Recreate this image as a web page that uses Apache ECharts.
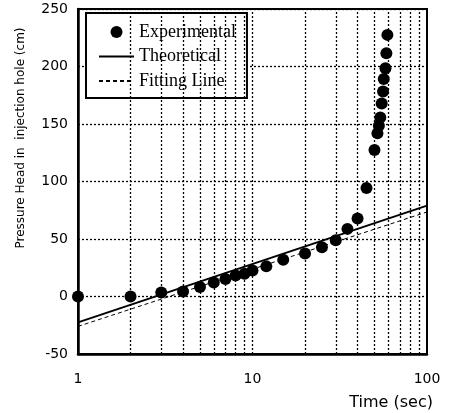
<!DOCTYPE html>
<html><head><meta charset="utf-8">
<script src="https://cdn.jsdelivr.net/npm/echarts@6/dist/echarts.min.js"></script>
<style>html,body{margin:0;padding:0;background:#fff}#c{width:452px;height:413px}</style>
</head><body><div id="c"></div>
<script>
// Experimental points
const timeSec = [1, 2, 3, 4, 5, 6, 7, 8, 9, 10, 12, 15, 20, 25, 30, 35, 40, 45, 50, 52, 53, 54, 55, 56, 56.5, 57.8, 58.5, 59.3];
const headExp = [0, 0, 3.5, 4.4, 8.2, 12.2, 15.2, 18.3, 19.8, 22.7, 26.2, 32, 37.3, 42.8, 48.9, 58.8, 67.8, 94.3, 127.4, 142, 148.4, 155.7, 167.9, 178.3, 189.1, 198.4, 211.5, 227.5];
// Lines
const lineTime = [1, 100];
const headTheory = [-22.5, 79];
const headFit = [-26, 73.5];
// Grid lines (log x minor + major)
const xGridValues = [2, 3, 4, 5, 6, 7, 8, 9, 10, 20, 30, 40, 50, 60, 70, 80, 90];
const yMin = -50, yMax = 250, yStep = 50;
const xMin = 1, xMax = 100;

const sans = 'DejaVu Sans';
const serif = 'Liberation Serif';
const dotted = { color: '#000', width: 1.3, type: [2, 2] };

const chart = echarts.init(document.getElementById('c'), null, { renderer: 'canvas' });
chart.setOption({
  animation: false,
  backgroundColor: '#fff',
  grid: { left: 78, right: 25, top: 9, bottom: 59, show: true, borderColor: '#000', borderWidth: 2 },
  xAxis: {
    type: 'log', logBase: 10, min: xMin, max: xMax,
    axisLine: { show: true, onZero: false, lineStyle: { color: '#000', width: 2.5 } },
    axisTick: { show: false },
    splitLine: { show: false },
    axisLabel: { color: '#000', fontFamily: sans, fontSize: 14, margin: 18 },
    name: 'Time (sec)', nameLocation: 'end', nameGap: 6,
    nameTextStyle: { color: '#000', fontFamily: sans, fontSize: 16, align: 'right', verticalAlign: 'top', padding: [41, 0, 0, 0] }
  },
  yAxis: {
    type: 'value', min: yMin, max: yMax, interval: yStep,
    axisLine: { show: true, lineStyle: { color: '#000', width: 2.5 } },
    axisTick: { show: false },
    splitLine: { show: true, lineStyle: dotted },
    axisLabel: { color: '#000', fontFamily: sans, fontSize: 14, margin: 10 },
    name: 'Pressure Head in  injection hole (cm)', nameLocation: 'middle', nameGap: 51,
    nameTextStyle: { color: '#000', fontFamily: sans, fontSize: 12, padding: [0, 0, 0, 87] }
  },
  legend: {
    orient: 'vertical', left: 86, top: 13,
    padding: [9, 11, 7, 12], itemGap: 4.5, itemWidth: 35, itemHeight: 12,
    backgroundColor: '#fff', borderColor: '#000', borderWidth: 2,
    textStyle: { fontFamily: serif, fontSize: 18, color: '#000', lineHeight: 20 },
    data: [
      { name: 'Experimental', icon: 'circle', itemStyle: { color: '#000', opacity: 1 } },
      { name: 'Theoretical', itemStyle: { opacity: 0 } },
      { name: 'Fitting Line', itemStyle: { opacity: 0 } }
    ]
  },
  series: [
    {
      name: 'Theoretical', type: 'line', symbol: 'none', z: 2,
      data: lineTime.map((t, i) => [t, headTheory[i]]),
      itemStyle: { color: '#000' },
      lineStyle: { color: '#000', width: 2 },
      markLine: {
        silent: true, symbol: 'none', label: { show: false },
        lineStyle: dotted, animation: false,
        data: xGridValues.map(v => ({ xAxis: v }))
      }
    },
    {
      name: 'Fitting Line', type: 'line', symbol: 'none', z: 2,
      data: lineTime.map((t, i) => [t, headFit[i]]),
      itemStyle: { color: '#000' },
      lineStyle: { color: '#000', width: 1, type: [4, 3] }
    },
    {
      name: 'Experimental', type: 'scatter', symbol: 'circle', symbolSize: 12, z: 3,
      data: timeSec.map((t, i) => [t, headExp[i]]),
      itemStyle: { color: '#000', opacity: 1 }
    }
  ]
});
</script></body></html>
